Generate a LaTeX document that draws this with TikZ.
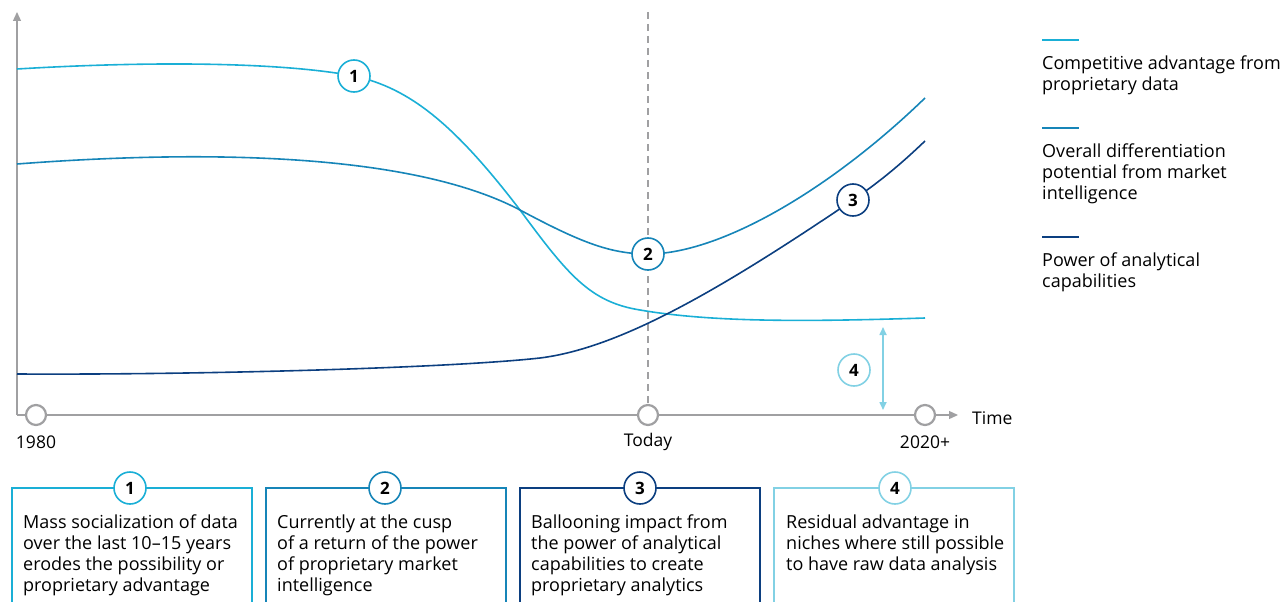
\documentclass[tikz,border=0pt]{standalone}
\usepackage{fontspec}
\setmainfont{Open Sans}
\usetikzlibrary{arrows.meta}
\definecolor{cA}{HTML}{1AAFD6}
\definecolor{cB}{HTML}{1685B8}
\definecolor{cC}{HTML}{0C3F80}
\definecolor{cD}{HTML}{82D1E4}
\definecolor{axg}{HTML}{A0A0A2}
\tikzset{
  num/.style={circle,draw=#1,line width=1.6pt,fill=white,minimum size=32pt,inner sep=0pt,font=\fontsize{17}{17}\selectfont\bfseries},
  tick/.style={circle,draw=axg,line width=2.2pt,fill=white,minimum size=20pt,inner sep=0pt},
  curve/.style={line width=1.6pt,#1},
  lbl/.style={font=\fontsize{17.5}{21}\selectfont,inner sep=0pt},
  boxtxt/.style={font=\fontsize{18}{21}\selectfont,align=left,anchor=north west,inner sep=0pt},
  legline/.style={line width=1.6pt,#1},
  legtxt/.style={font=\fontsize{18}{21}\selectfont,align=left,anchor=north west,inner sep=0pt}
}
\begin{document}
\begin{tikzpicture}[x=1pt,y=-1pt]
\useasboundingbox (0,0) rectangle (1287,602);
% axes
\coordinate (o) at (17,415);
\coordinate (ytop) at (17,12);
\coordinate (xend) at (958,415);
\draw[axg,line width=1.3pt,-{Triangle[length=9pt,width=8pt]}] (o) -- (ytop);
\draw[axg,line width=1.3pt,-{Triangle[length=9pt,width=8pt]}] (o) -- (xend);
\coordinate (dtop) at (648,12);
\node[tick] (t1) at (36,415) {};
\node[tick] (t2) at (648,415) {};
\node[tick] (t3) at (925,415) {};
\draw[axg,line width=1.2pt,dash pattern=on 7pt off 5pt] (dtop) -- (t2.north);
\node[lbl] (l1) at (36,442) {1980};
\node[lbl] (l2) at (648,442) {Today};
\node[lbl] (l3) at (925,442) {2020+};
\node[lbl,anchor=west] (ltime) at (972,418) {Time};
% curves
\draw[curve=cA] (17,69) .. controls (150,61) and (280,62) .. (354,76) .. controls (410,88) and (455,125) .. (520,210) .. controls (568,275) and (590,302) .. (640,310) .. controls (710,322) and (800,322) .. (925,318);
\draw[curve=cB] (17,164) .. controls (200,150) and (410,152) .. (520,210) .. controls (580,242) and (610,254) .. (648,254) .. controls (720,254) and (830,190) .. (925,98);
\draw[curve=cC] (17,374) .. controls (200,375) and (450,368) .. (540,358) .. controls (620,348) and (720,290) .. (853,200) .. controls (885,178) and (905,160) .. (925,141);
\node[num=cA] (n1) at (354,76) {1};
\node[num=cB] (n2) at (648,254) {2};
\node[num=cC] (n3) at (853,200) {3};
\node[num=cD] (n4) at (854,370) {4};
\coordinate (a4t) at (883,327);
\coordinate (a4b) at (883,410);
\draw[cD,line width=1.6pt,{Triangle[length=8pt,width=7pt]}-{Triangle[length=8pt,width=7pt]}] (a4t) -- (a4b);
% legend
\draw[legline=cA] (1042,40) -- (1079,40);
\node[legtxt] (g1) at (1042,56) {Competitive advantage from\\proprietary data};
\draw[legline=cB] (1042,128) -- (1079,128);
\node[legtxt] (g2) at (1042,144) {Overall differentiation\\potential from market\\intelligence};
\draw[legline=cC] (1042,237) -- (1079,237);
\node[legtxt] (g3) at (1042,253) {Power of analytical\\capabilities};
% boxes
\draw[cA,line width=1.6pt] (12,610) -- (12,488) -- (252,488) -- (252,610);
\draw[cB,line width=1.6pt] (266,610) -- (266,488) -- (506,488) -- (506,610);
\draw[cC,line width=1.6pt] (520,610) -- (520,488) -- (760,488) -- (760,610);
\draw[cD,line width=1.6pt] (774,610) -- (774,488) -- (1014,488) -- (1014,610);
\node[num=cA] (b1) at (130,488) {1};
\node[num=cB] (b2) at (385,488) {2};
\node[num=cC] (b3) at (640,488) {3};
\node[num=cD] (b4) at (895,488) {4};
\node[boxtxt] (x1) at (23,515) {Mass socialization of data\\over the last 10–15 years\\erodes the possibility or\\proprietary advantage};
\node[boxtxt] (x2) at (277,515) {Currently at the cusp\\of a return of the power\\of proprietary market\\intelligence};
\node[boxtxt] (x3) at (531,515) {Ballooning impact from\\the power of analytical\\capabilities to create\\proprietary analytics};
\node[boxtxt] (x4) at (786,515) {Residual advantage in\\niches where still possible\\to have raw data analysis};
\end{tikzpicture}
\end{document}
